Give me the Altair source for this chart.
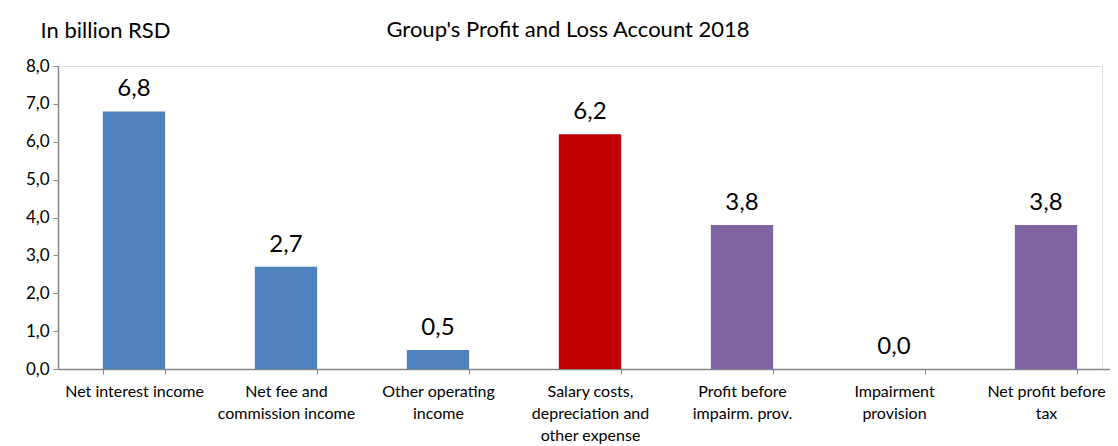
import altair as alt
import pandas as pd

categories = [
    "Net interest income",
    "Net fee and|commission income",
    "Other operating|income",
    "Salary costs,|depreciation and|other expense",
    "Profit before|impairm. prov.",
    "Impairment|provision",
    "Net profit before|tax",
]
values = [6.8, 2.7, 0.5, 6.2, 3.8, 0.0, 3.8]
colors = ["#4F81BD", "#4F81BD", "#4F81BD", "#C00000", "#8064A2", "#8064A2", "#8064A2"]
value_labels = ["6,8", "2,7", "0,5", "6,2", "3,8", "0,0", "3,8"]
y_ticks = [0, 1, 2, 3, 4, 5, 6, 7, 8]
chart_title = ["Group's Profit and Loss Account 2018"]

df = pd.DataFrame({
    "cat": categories,
    "value": values,
    "color": colors,
    "label": value_labels,
})

FONT = "Lato"

x_scale = alt.Scale(range=[0, 1064], paddingInner=0.59, paddingOuter=0.295)
y_scale = alt.Scale(domain=[0, 8], nice=False)

x_enc = alt.X(
    "cat:N",
    sort=categories,
    scale=x_scale,
    axis=alt.Axis(
        title=None,
        labelAngle=0,
        labelExpr="split(datum.label, '|')",
        labelFont=FONT,
        labelFontSize=16,
        labelColor="#000000",
        labelLineHeight=22,
        labelPadding=9,
        labelBaseline="top",
        labelOverlap=False,
        tickBand="extent",
        tickSize=5,
        tickColor="#868686",
        domainColor="#868686",
        domainWidth=1.5,
        grid=False,
    ),
)

y_axis = alt.Axis(
    values=y_ticks,
    title="In billion RSD",
    titleAngle=0,
    titleAlign="left",
    titleBaseline="middle",
    titleX=-18,
    titleY=-36,
    titleFont=FONT,
    titleFontSize=22,
    titleFontWeight="normal",
    titleColor="#000000",
    labelExpr="replace(format(datum.value, '.1f'), '.', ',')",
    labelFont=FONT,
    labelFontSize=17,
    labelColor="#000000",
    labelPadding=4,
    labelOverlap=False,
    tickSize=5,
    tickColor="#868686",
    domainColor="#868686",
    domainWidth=1.5,
    grid=False,
)

y_enc = alt.Y("value:Q", scale=y_scale, axis=y_axis)

base = alt.Chart(df)

bars = base.mark_bar().encode(
    x=x_enc,
    y=y_enc,
    color=alt.Color("color:N", scale=None),
)

texts = base.mark_text(
    font=FONT, fontSize=24, baseline="alphabetic", dy=-15, color="#000000"
).encode(
    x=x_enc,
    y=y_enc,
    text="label:N",
)

title_text = alt.Chart(pd.DataFrame({"t": chart_title})).mark_text(
    font=FONT, fontSize=22, baseline="middle", align="center", color="#000000"
).encode(
    x=alt.value(510),
    y=alt.value(-36),
    text="t:N",
)

chart = (
    alt.layer(bars, texts, title_text)
    .properties(
        width=1044,
        height=303,
        autosize=alt.AutoSizeParams(type="none"),
        padding={"left": 50, "top": 58, "right": 8, "bottom": 77},
    )
    .configure_view(stroke=None)
    .configure(background="#ffffff")
)

chart.save("out.html", embed_options={"renderer": "svg", "actions": False})
